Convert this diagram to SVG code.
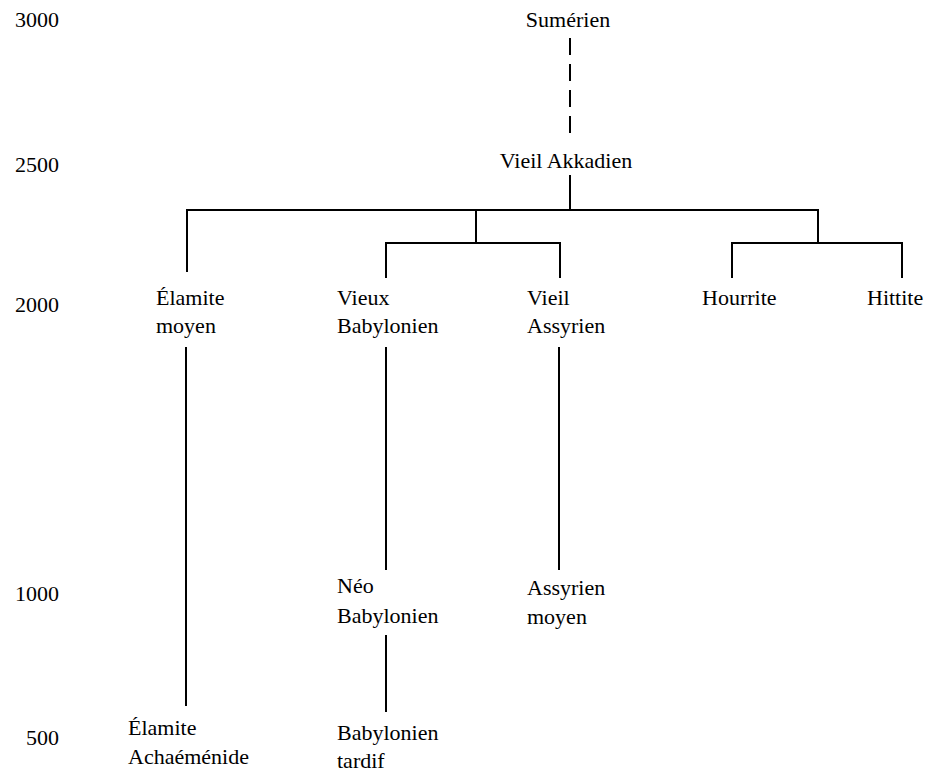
<svg xmlns="http://www.w3.org/2000/svg" width="935" height="776" viewBox="0 0 935 776">
<style>
text{font-family:"Times New Roman",Times,"Liberation Serif","Nimbus Roman","Nimbus Roman No9 L",FreeSerif,Tinos,"Noto Serif","DejaVu Serif",serif;font-size:22px;fill:#000}
.yr{text-anchor:end}
.c line,.c path{stroke:#000;stroke-width:2;fill:none}
.dash{stroke-dasharray:17 9}
</style>
<rect width="935" height="776" fill="#fff"/>
<g id="years">
<text class="yr" x="59" y="27">3000</text>
<text class="yr" x="59" y="172">2500</text>
<text class="yr" x="59" y="312">2000</text>
<text class="yr" x="59" y="601">1000</text>
<text class="yr" x="59" y="745">500</text>
</g>
<g class="c" id="connectors">
<line class="dash" x1="570" y1="38" x2="570" y2="140"/>
<line x1="570" y1="175" x2="570" y2="210"/>
<path d="M187 272V210H818V243"/>
<path d="M476 210V243"/>
<path d="M386 278V243H560V278"/>
<path d="M732 278V243H902V278"/>
<line x1="186" y1="347" x2="186" y2="706"/>
<line x1="386" y1="347" x2="386" y2="570"/>
<line x1="559" y1="347" x2="559" y2="570"/>
<line x1="386" y1="635" x2="386" y2="712"/>
</g>
<g id="sumerien"><text x="568" y="27" text-anchor="middle">Sumérien</text></g>
<g id="vieil-akkadien"><text x="566" y="168" text-anchor="middle">Vieil Akkadien</text></g>
<g id="elamite-moyen"><text x="156" y="305">Élamite</text><text x="156" y="333">moyen</text></g>
<g id="vieux-babylonien"><text x="337" y="305">Vieux</text><text x="337" y="333">Babylonien</text></g>
<g id="vieil-assyrien"><text x="527" y="305">Vieil</text><text x="527" y="333">Assyrien</text></g>
<g id="hourrite"><text x="702" y="305">Hourrite</text></g>
<g id="hittite"><text x="867" y="305">Hittite</text></g>
<g id="neo-babylonien"><text x="337" y="593">Néo</text><text x="337" y="623">Babylonien</text></g>
<g id="assyrien-moyen"><text x="527" y="595">Assyrien</text><text x="527" y="624">moyen</text></g>
<g id="elamite-achaemenide"><text x="128" y="735">Élamite</text><text x="128" y="764">Achaéménide</text></g>
<g id="babylonien-tardif"><text x="337" y="740">Babylonien</text><text x="337" y="768">tardif</text></g>
</svg>
